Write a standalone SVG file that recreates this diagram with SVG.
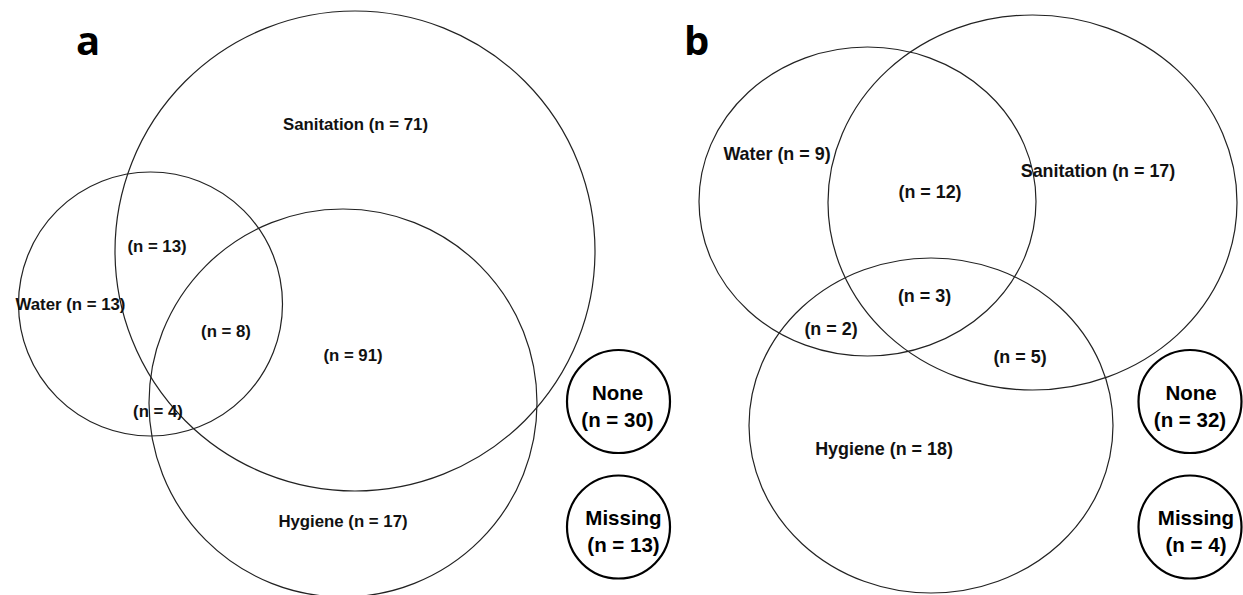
<svg xmlns="http://www.w3.org/2000/svg" width="1243" height="595" viewBox="0 0 1243 595">
<style>
.set{fill:none;stroke:#222;stroke-width:1.2}
.box{fill:#fff;stroke:#000;stroke-width:2.2}
.lbl{font-family:"Liberation Sans",Arial,sans-serif;font-weight:bold;font-size:16.8px;fill:#111;text-anchor:middle}
.lblb{font-family:"Liberation Sans",Arial,sans-serif;font-weight:bold;font-size:17.9px;fill:#111;text-anchor:middle}
.sm{font-family:"Liberation Sans",Arial,sans-serif;font-weight:bold;font-size:20.5px;fill:#000;text-anchor:middle}
.panel{font-family:"Open Sans","Liberation Sans",sans-serif;font-weight:bold;font-size:40px;fill:#000}
</style>
<rect width="1243" height="595" fill="#fff"/>
<text class="panel" x="76" y="55">a</text>
<text class="panel" x="684" y="55">b</text>
<g id="a-sanitation"><circle class="set" cx="355" cy="251" r="240"/><text class="lbl" x="355.5" y="130">Sanitation (n = 71)</text></g>
<g id="a-water"><circle class="set" cx="150.5" cy="304" r="132"/><text class="lbl" x="70.5" y="310">Water (n = 13)</text></g>
<g id="a-hygiene"><circle class="set" cx="343" cy="403" r="194"/><text class="lbl" x="343" y="527">Hygiene (n = 17)</text></g>
<g id="a-overlaps">
<text class="lbl" x="157" y="252">(n = 13)</text>
<text class="lbl" x="226" y="337">(n = 8)</text>
<text class="lbl" x="353" y="361">(n = 91)</text>
<text class="lbl" x="158" y="417">(n = 4)</text>
</g>
<g id="a-none"><circle class="box" cx="618.5" cy="401.5" r="51.5"/><text class="sm" x="617.5" y="400">None</text><text class="sm" x="617.5" y="427">(n = 30)</text></g>
<g id="a-missing"><circle class="box" cx="618.5" cy="527" r="51.5"/><text class="sm" x="623.5" y="525">Missing</text><text class="sm" x="623.5" y="552">(n = 13)</text></g>
<g id="b-water"><ellipse class="set" cx="867.5" cy="201.5" rx="168.5" ry="154.5"/><text class="lblb" x="777" y="160">Water (n = 9)</text></g>
<g id="b-sanitation"><ellipse class="set" cx="1032.5" cy="202.5" rx="204.5" ry="187.5"/><text class="lblb" x="1098" y="177">Sanitation (n = 17)</text></g>
<g id="b-hygiene"><ellipse class="set" cx="931" cy="425.5" rx="182" ry="167.5"/><text class="lblb" x="884" y="455">Hygiene (n = 18)</text></g>
<g id="b-overlaps">
<text class="lblb" x="930" y="198">(n = 12)</text>
<text class="lblb" x="924.5" y="302">(n = 3)</text>
<text class="lblb" x="831" y="335">(n = 2)</text>
<text class="lblb" x="1020" y="363">(n = 5)</text>
</g>
<g id="b-none"><circle class="box" cx="1190" cy="401.5" r="51.5"/><text class="sm" x="1191" y="400">None</text><text class="sm" x="1190" y="427">(n = 32)</text></g>
<g id="b-missing"><circle class="box" cx="1190" cy="527" r="51.5"/><text class="sm" x="1196" y="525">Missing</text><text class="sm" x="1196" y="552">(n = 4)</text></g>
</svg>
